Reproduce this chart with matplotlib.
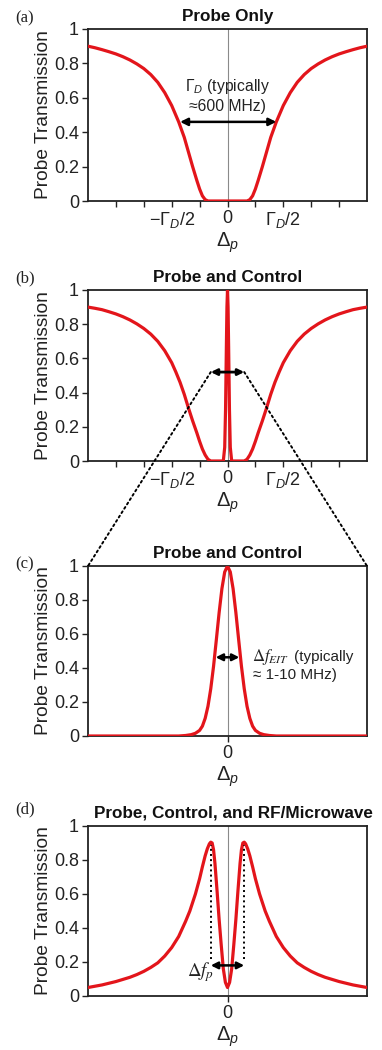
import matplotlib
matplotlib.use('Agg')
import matplotlib.pyplot as plt
from matplotlib.patches import ConnectionPatch

plt.rcParams['font.family'] = ['Liberation Sans', 'DejaVu Sans']
plt.rcParams['mathtext.fontset'] = 'custom'
plt.rcParams['mathtext.rm'] = 'Liberation Sans'
plt.rcParams['mathtext.it'] = 'Liberation Sans:italic'
plt.rcParams['mathtext.bf'] = 'Liberation Sans:bold'

# ---------------- data ----------------
# (a) Probe only (Doppler-broadened absorption)
a_detuning = [-5, -4.75, -4.5, -4.25, -4, -3.75, -3.5, -3.25, -3, -2.75, -2.5, -2.25, -2, -1.75, -1.55, -1.4, -1.25, -1.1, -1.0, -0.9, -0.8, -0.7,
              0,
              0.7, 0.8, 0.9, 1.0, 1.1, 1.25, 1.4, 1.55, 1.75, 2, 2.25, 2.5, 2.75, 3, 3.25, 3.5, 3.75, 4, 4.25, 4.5, 4.75, 5]
a_trans = [0.90, 0.891, 0.88, 0.868, 0.855, 0.839, 0.82, 0.797, 0.77, 0.735, 0.69, 0.63, 0.555, 0.46, 0.37, 0.285, 0.20, 0.12, 0.07, 0.03, 0.008, 0.0,
           0.0,
           0.0, 0.008, 0.03, 0.07, 0.12, 0.20, 0.285, 0.37, 0.46, 0.555, 0.63, 0.69, 0.735, 0.77, 0.797, 0.82, 0.839, 0.855, 0.868, 0.88, 0.891, 0.90]

# (b) Probe and control (Doppler background with narrow EIT spike)
b_detuning = [-5, -4.75, -4.5, -4.25, -4, -3.75, -3.5, -3.25, -3, -2.75, -2.5, -2.25, -2, -1.85, -1.7, -1.55, -1.4, -1.25, -1.1, -1.0, -0.9, -0.8, -0.7, -0.6,
              -0.15, -0.1, -0.07, -0.04, -0.02, 0, 0.02, 0.04, 0.07, 0.1, 0.15,
              0.6, 0.7, 0.8, 0.9, 1.0, 1.1, 1.25, 1.4, 1.55, 1.7, 1.85, 2, 2.25, 2.5, 2.75, 3, 3.25, 3.5, 3.75, 4, 4.25, 4.5, 4.75, 5]
b_trans = [0.90, 0.893, 0.885, 0.873, 0.86, 0.844, 0.825, 0.802, 0.775, 0.742, 0.70, 0.645, 0.575, 0.52, 0.46, 0.39, 0.31, 0.235, 0.165, 0.115, 0.07, 0.035, 0.01, 0.0,
           0.0, 0.08, 0.30, 0.67, 0.90, 1.0, 0.90, 0.67, 0.30, 0.08, 0.0,
           0.0, 0.01, 0.035, 0.07, 0.115, 0.165, 0.235, 0.31, 0.39, 0.46, 0.52, 0.575, 0.645, 0.70, 0.742, 0.775, 0.802, 0.825, 0.844, 0.86, 0.873, 0.885, 0.893, 0.90]

# (c) Probe and control, zoomed on the EIT window
c_detuning = [-10, -3.5, -3.0, -2.6, -2.3, -2.0, -1.8, -1.6, -1.4, -1.2, -1.0, -0.8, -0.6, -0.4, -0.2,
              0,
              0.2, 0.4, 0.6, 0.8, 1.0, 1.2, 1.4, 1.6, 1.8, 2.0, 2.3, 2.6, 3.0, 3.5, 10]
c_trans = [0.0, 0.0, 0.003, 0.008, 0.016, 0.033, 0.058, 0.104, 0.175, 0.278, 0.41, 0.566, 0.726, 0.867, 0.965,
           1.0,
           0.965, 0.867, 0.726, 0.566, 0.41, 0.278, 0.175, 0.104, 0.058, 0.033, 0.016, 0.008, 0.003, 0.0, 0.0]

# (d) Probe, control and RF/microwave (Autler-Townes splitting)
d_detuning = [-10, -9, -8, -7, -6.5, -6, -5.5, -5, -4.5, -4, -3.5, -3, -2.7, -2.3, -2.0, -1.8, -1.6, -1.45, -1.3, -1.2, -1.1, -1.0,
              -0.9, -0.75, -0.6, -0.45, -0.3, -0.15,
              0,
              0.15, 0.3, 0.45, 0.6, 0.75, 0.9,
              1.0, 1.1, 1.2, 1.3, 1.45, 1.6, 1.8, 2.0, 2.3, 2.7, 3, 3.5, 4, 4.5, 5, 5.5, 6, 6.5, 7, 8, 9, 10]
d_trans = [0.05, 0.065, 0.085, 0.11, 0.126, 0.145, 0.168, 0.195, 0.235, 0.285, 0.35, 0.44, 0.50, 0.60, 0.69, 0.76, 0.825, 0.865, 0.895, 0.905, 0.90, 0.86,
           0.78, 0.62, 0.45, 0.30, 0.16, 0.08,
           0.05,
           0.08, 0.16, 0.30, 0.45, 0.62, 0.78,
           0.86, 0.90, 0.905, 0.895, 0.865, 0.825, 0.76, 0.69, 0.60, 0.50, 0.44, 0.35, 0.285, 0.235, 0.195, 0.168, 0.145, 0.126, 0.11, 0.085, 0.065, 0.05]

# tick labels
ytick_vals = [0, 0.2, 0.4, 0.6, 0.8, 1.0]
ytick_labels = ['0', '0.2', '0.4', '0.6', '0.8', '1']
ab_xtick_vals = [-4, -3, -2, -1, 0, 1, 2, 3, 4]
ab_xtick_labels = ['', '', r'$-\Gamma_D/2$', '', '0', '', r'$\Gamma_D/2$', '', '']

titles = ['Probe Only', 'Probe and Control', 'Probe and Control', 'Probe, Control, and RF/Microwave']
panel_tags = ['(a)', '(b)', '(c)', '(d)']

# annotation positions (data coordinates)
a_arrow = (-1.7, 1.75, 0.46)
b_arrow = (-0.6, 0.6, 0.52)
c_arrow = (-0.85, 0.85, 0.463)
d_arrow = (-1.2, 1.2, 0.18)
d_dotted_x = [-1.15, 1.15]
d_dotted_y = (0.22, 0.89)

# ---------------- figure ----------------
W, H = 382, 1050
fig = plt.figure(figsize=(W / 100, H / 100), dpi=100)

RED = '#e3151b'
left = 88 / W
width = 279 / W
axes_px = [(29, 201), (290, 461), (566, 736), (826, 996)]
tag_y = [18.5, 278, 564, 809]
axs = []
for (top, bot) in axes_px:
    ax = fig.add_axes([left, 1 - bot / H, width, (bot - top) / H])
    axs.append(ax)

def style(ax, title, title_x=0.5):
    ax.set_ylim(0, 1)
    ax.set_yticks(ytick_vals)
    ax.set_yticklabels(ytick_labels)
    ax.tick_params(axis='both', direction='out', length=4.5, width=1.0, labelsize=13,
                   colors='#222222', pad=2)
    for s in ax.spines.values():
        s.set_linewidth(1.3)
        s.set_color('#222222')
    ax.axvline(0, color='#8a8a8a', lw=0.8, zorder=1)
    ax.set_ylabel('Probe Transmission', fontsize=13.8, color='#222222')
    ax.yaxis.set_label_coords(-0.13, 0.5)
    ax.set_xlabel(r'$\Delta_p$', fontsize=14.5, color='#222222')
    ax.xaxis.set_label_coords(0.5, -0.17)
    ax.set_title(title, fontsize=12.3, fontweight='bold', pad=6, x=title_x, color='#111111')

def arrow(ax, x0, x1, y, lw=1.8, ms=11):
    ax.annotate('', xy=(x1, y), xytext=(x0, y),
                arrowprops=dict(arrowstyle='<|-|>', color='black', lw=lw,
                                mutation_scale=ms, shrinkA=0, shrinkB=0), zorder=5)

# (a)
ax = axs[0]
ax.plot(a_detuning, a_trans, color=RED, lw=2.3, zorder=3, solid_joinstyle='round')
ax.set_xlim(-5, 5)
ax.set_xticks(ab_xtick_vals)
ax.set_xticklabels(ab_xtick_labels)
style(ax, titles[0])
arrow(ax, *a_arrow)
ax.text(0, 0.663, r'$\Gamma_D$ (typically', ha='center', va='center', fontsize=11.3, color='#222222')
ax.text(0, 0.547, '\u2248600 MHz)', ha='center', va='center', fontsize=11.3, color='#222222')

# (b)
ax = axs[1]
ax.plot(b_detuning, b_trans, color=RED, lw=2.3, zorder=3, solid_joinstyle='round')
ax.set_xlim(-5, 5)
ax.set_xticks(ab_xtick_vals)
ax.set_xticklabels(ab_xtick_labels)
style(ax, titles[1])
arrow(ax, *b_arrow, lw=2.0, ms=9)

# (c)
ax = axs[2]
ax.plot(c_detuning, c_trans, color=RED, lw=2.3, zorder=3, solid_joinstyle='round')
ax.set_xlim(-10, 10)
ax.set_xticks([0])
ax.set_xticklabels(['0'])
style(ax, titles[2])
arrow(ax, *c_arrow, lw=1.8, ms=10)
ax.text(1.76, 0.466, r'$\Delta f_{EIT}$', ha='left', va='center', fontsize=12,
        color='#222222', math_fontfamily='stix')
ax.text(4.75, 0.466, '(typically', ha='left', va='center', fontsize=11, color='#222222')
ax.text(1.8, 0.359, '\u2248 1-10 MHz)', ha='left', va='center', fontsize=11, color='#222222')

# (d)
ax = axs[3]
ax.plot(d_detuning, d_trans, color=RED, lw=2.3, zorder=3, solid_joinstyle='round')
ax.set_xlim(-10, 10)
ax.set_xticks([0])
ax.set_xticklabels(['0'])
style(ax, titles[3], title_x=0.523)
for xv in d_dotted_x:
    ax.plot([xv, xv], list(d_dotted_y), ls=':', color='black', lw=1.4, zorder=4)
arrow(ax, *d_arrow, lw=1.8, ms=10)
ax.text(-1.97, 0.14, r'$\Delta f_p$', ha='center', va='center', fontsize=13.5,
        color='#222222', math_fontfamily='stix')

# panel tags
for tag, ty in zip(panel_tags, tag_y):
    fig.text(15 / W, 1 - ty / H, tag, ha='left', va='center', fontsize=12,
             family='Liberation Serif', color='#222222')

# dotted zoom lines from (b) arrow ends to (c) top corners
for xb, xc in [(b_arrow[0], 0.0), (b_arrow[1], 1.0)]:
    con = ConnectionPatch(xyA=(xb, b_arrow[2]), coordsA=axs[1].transData,
                          xyB=(xc, 1.0), coordsB=axs[2].transAxes,
                          linestyle=':', color='black', lw=1.4, zorder=2)
    fig.add_artist(con)

fig.savefig('out.png', dpi=100)
